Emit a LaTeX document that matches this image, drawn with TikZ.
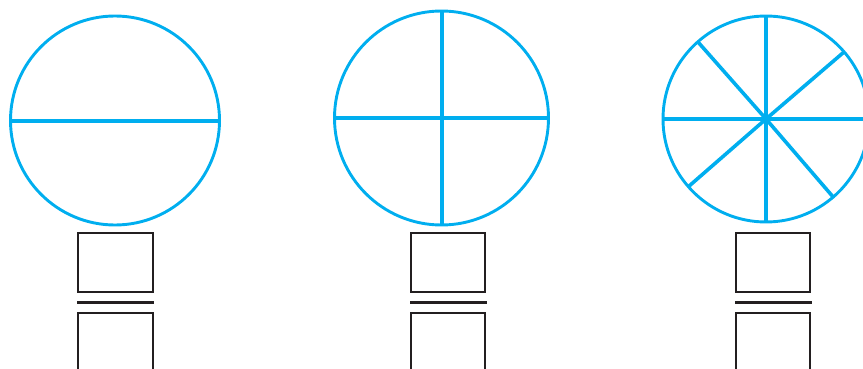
\documentclass[tikz,border=0pt]{standalone}
\definecolor{cyanline}{HTML}{00AEEF}
\definecolor{boxgray}{HTML}{231F20}
\tikzset{
  ring/.style={draw=cyanline, line width=2.9pt},
  spoke/.style={draw=cyanline, line width=3.6pt},
  fracbox/.style={draw=boxgray, line width=1.9pt},
  fracbar/.style={draw=boxgray, line width=2.5pt},
}
\begin{document}
\begin{tikzpicture}[x=1pt,y=-1pt]
\useasboundingbox (0,0) rectangle (863,369);
\clip (0,0) rectangle (863,369);
% circle 1
\coordinate (c1) at (115,120.5);
\draw[ring] (c1) circle (104.5);
\draw[spoke] (9.5,121) -- (219.5,121);
% circle 2
\coordinate (c2) at (441.5,118);
\draw[ring] (c2) circle (107);
\draw[spoke] (334,118) -- (549,118);
\draw[spoke] (441.7,11) -- (441.7,225);
% circle 3
\coordinate (c3) at (766,119);
\draw[ring] (c3) circle (103);
\draw[spoke] (663,119) -- (870,119);
\draw[spoke] (766,16) -- (766,222);
\draw[spoke] (c3) -- ++(-68,-77);
\draw[spoke] (c3) -- ++(78,-67);
\draw[spoke] (c3) -- ++(-78,68);
\draw[spoke] (c3) -- ++(68,79);
% fraction boxes
\foreach \l/\r in {77.7/152.7, 410.7/485, 735.7/810}{
  \draw[fracbox] (\l,232.7) rectangle (\r,291.7);
  \draw[fracbar] (\l-0.7,302.3) -- (\r+1.5,302.3);
  \draw[fracbox] (\l,312.7) rectangle (\r,380);
}
\end{tikzpicture}
\end{document}
